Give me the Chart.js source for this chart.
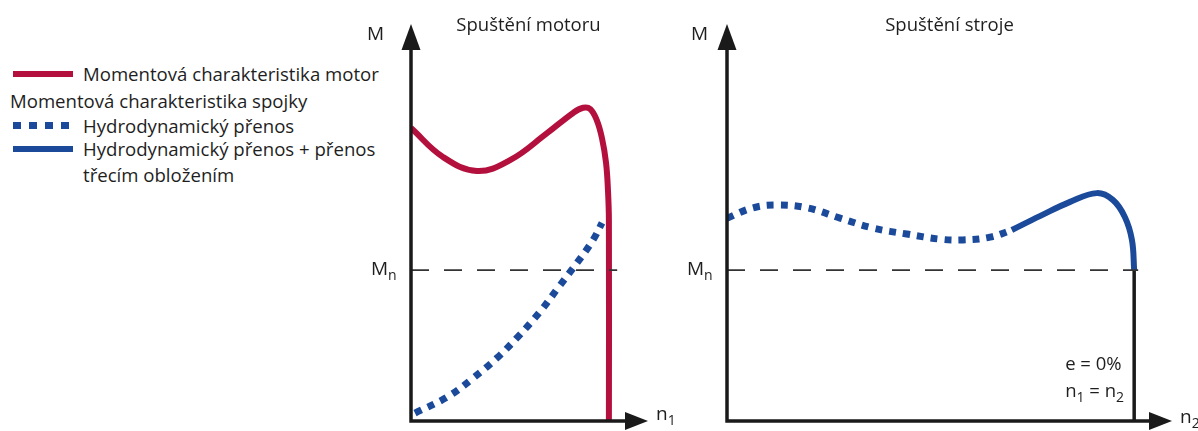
<!DOCTYPE html>
<html>
<head>
<meta charset="utf-8">
<script src="https://cdn.jsdelivr.net/npm/chart.js@4.4.1/dist/chart.umd.min.js"></script>
<style>
    body { margin: 0; background: #fff; width: 1198px; height: 431px; overflow: hidden; position: relative; font-family: "Open Sans", sans-serif; color: #1e1e1e; }
    #left { position: absolute; left: 340px; top: 0; }
    #right { position: absolute; left: 680px; top: 0; }
    .leg { position: absolute; font-size: 18.6px; line-height: 22px; white-space: nowrap; }
    .sw { position: absolute; left: 13px; width: 60px; }
</style>
</head>
<body>
<div class="sw" style="top:71px;height:6px;background:#b3103e"></div>
<div class="leg" style="left:83px;top:63px">Momentová charakteristika motor</div>
<div class="leg" style="left:10px;top:90px">Momentová charakteristika spojky</div>
<div class="sw" style="top:122px;height:7px;background:repeating-linear-gradient(to right,#1b4a9a 0 8px,transparent 8px 16px)"></div>
<div class="leg" style="left:83px;top:115px">Hydrodynamický přenos</div>
<div class="sw" style="top:146px;height:6px;background:#1b4a9a"></div>
<div class="leg" style="left:83px;top:138px">Hydrodynamický přenos + přenos</div>
<div class="leg" style="left:83px;top:164px">třecím obložením</div>

<canvas id="left" width="340" height="431"></canvas>
<canvas id="right" width="518" height="431"></canvas>

<script>
const RED = '#b3103e';
const BLUE = '#1b4a9a';
const AXIS = '#1a1a1a';
const FONT = '"Open Sans", sans-serif';

// Spuštění motoru (levý graf)
const motorX = [0, 13.5, 27.8, 41.8, 57.4, 68.4, 72.6, 75.6, 78.3, 80.6, 82.3, 83.1, 83.5, 83.5];
const motorM = [73.8, 66.5, 63.0, 65.7, 72.5, 77.6, 78.9, 78.6, 75.9, 71.2, 65.0, 58.2, 50.6, 0];
const hydroX = [1.7, 15.2, 26.2, 36.3, 45.1, 54.4, 62.0, 70.0, 76.8, 80.6];
const hydroM = [2.0, 6.0, 10.8, 15.9, 21.2, 27.5, 33.5, 39.8, 45.6, 49.9];
const mnLeftX = [0, 87];

// Spuštění stroje (pravý graf)
const strojDotX = [0, 5.8, 11.2, 18.0, 25.4, 32.8, 40.4, 47.9, 53.0, 59.1, 64.0];
const strojDotM = [51.1, 53.7, 54.4, 53.7, 51.1, 48.6, 47.1, 45.8, 45.6, 46.3, 48.1];
const strojSolidX = [64.0, 70.3, 77.1, 83.1, 86.7, 89.4, 91.0, 91.5];
const strojSolidM = [48.1, 51.6, 55.2, 57.4, 55.7, 51.4, 45.6, 38.0];
const mnRightX = [0, 92.4];
const syncX = 91.5;

const Mn = 38;

const pts = (xs, ys) => xs.map((x, i) => ({ x: x, y: ys[i] }));

// text with subscripts: segs = [[text, isSub], ...]
function drawRich(ctx, segs, x, y, size) {
    let cx = x;
    segs.forEach(([t, sub]) => {
        ctx.font = (sub ? Math.round(size * 0.75) : size) + 'px ' + FONT;
        ctx.fillText(t, cx, sub ? y + 5 : y);
        cx += ctx.measureText(t).width;
    });
}

// axes with arrows, titles and labels
const axisDecor = {
    id: 'axisDecor',
    afterDatasetsDraw(chart, args, opts) {
        const { ctx, scales: { x, y } } = chart;
        const x0 = x.getPixelForValue(0), y0 = y.getPixelForValue(0);
        const xe = x.getPixelForValue(100), ye = y.getPixelForValue(100);
        ctx.save();
        ctx.strokeStyle = AXIS;
        ctx.fillStyle = AXIS;
        ctx.lineWidth = 3.5;
        ctx.beginPath();
        ctx.moveTo(x0, y0);
        ctx.lineTo(xe - 20, y0);
        ctx.moveTo(x0, y0 + 1.75);
        ctx.lineTo(x0, ye + 20);
        ctx.stroke();
        // arrow heads
        ctx.beginPath();
        ctx.moveTo(xe, y0);
        ctx.lineTo(xe - 23, y0 - 9);
        ctx.lineTo(xe - 23, y0 + 9);
        ctx.closePath();
        ctx.fill();
        ctx.beginPath();
        ctx.moveTo(x0, ye);
        ctx.lineTo(x0 - 9.5, ye + 26);
        ctx.lineTo(x0 + 9.5, ye + 26);
        ctx.closePath();
        ctx.fill();

        ctx.fillStyle = '#1e1e1e';
        ctx.textBaseline = 'alphabetic';
        ctx.textAlign = 'center';
        ctx.font = '18.5px ' + FONT;
        ctx.fillText(opts.title, (x0 + xe) / 2 + opts.titleShift, 31);
        ctx.textAlign = 'left';
        drawRich(ctx, [['M', false]], x0 - opts.mGap, 40, 19);
        const yMn = y.getPixelForValue(Mn);
        drawRich(ctx, [['M', false], ['n', true]], x0 - opts.mnGap, yMn + 5, 19);
        drawRich(ctx, [['n', false], [opts.sub, true]], xe + 8, y0 + opts.nDrop, 19);
        if (opts.note) {
            const xs = x.getPixelForValue(syncX);
            drawRich(ctx, [['e = 0%', false]], xs - 69, 370, 18.5);
            drawRich(ctx, [['n', false], ['1', true], [' = n', false], ['2', true]], xs - 69, 397, 18.5);
        }
        ctx.restore();
    }
};

const baseOptions = (padding, decor) => ({
    responsive: false,
    animation: false,
    layout: { padding: padding },
    plugins: { legend: { display: false }, tooltip: { enabled: false }, axisDecor: decor },
    elements: { point: { radius: 0 }, line: { tension: 0.4, borderCapStyle: 'butt' } },
    scales: {
        x: { type: 'linear', min: 0, max: 100, display: false },
        y: { type: 'linear', min: 0, max: 100, display: false }
    }
});

const dashed = (xs) => ({
    data: pts(xs, [Mn, Mn]),
    borderColor: '#333',
    borderWidth: 1.6,
    borderDash: [18, 15],
    tension: 0
});

new Chart(document.getElementById('left'), {
    type: 'scatter',
    data: {
        datasets: [
            dashed(mnLeftX),
            { label: 'Hydrodynamický přenos', data: pts(hydroX, hydroM),
              borderColor: BLUE, borderWidth: 7, borderDash: [7, 7] },
            { label: 'Momentová charakteristika motor', data: pts(motorX, motorM),
              borderColor: RED, borderWidth: 6 }
        ].map(d => ({ showLine: true, ...d }))
    },
    options: baseOptions({ left: 71, right: 32, top: 24, bottom: 10 },
        { title: 'Spuštění motoru', titleShift: -1, mGap: 44, mnGap: 40, sub: '1', nDrop: -1 }),
    plugins: [axisDecor]
});

new Chart(document.getElementById('right'), {
    type: 'scatter',
    data: {
        datasets: [
            dashed(mnRightX),
            { data: pts([syncX, syncX], [Mn, 0]), borderColor: AXIS, borderWidth: 3.5, tension: 0 },
            { label: 'Hydrodynamický přenos', data: pts(strojDotX, strojDotM),
              borderColor: BLUE, borderWidth: 7, borderDash: [7, 7] },
            { label: 'Hydrodynamický přenos + přenos třecím obložením', data: pts(strojSolidX, strojSolidM),
              borderColor: BLUE, borderWidth: 6 }
        ].map(d => ({ showLine: true, ...d }))
    },
    options: baseOptions({ left: 47, right: 26, top: 24, bottom: 10 },
        { title: 'Spuštění stroje', titleShift: 0, mGap: 36, mnGap: 40, sub: '2', nDrop: 2, note: true }),
    plugins: [axisDecor]
});
</script>
</body>
</html>
